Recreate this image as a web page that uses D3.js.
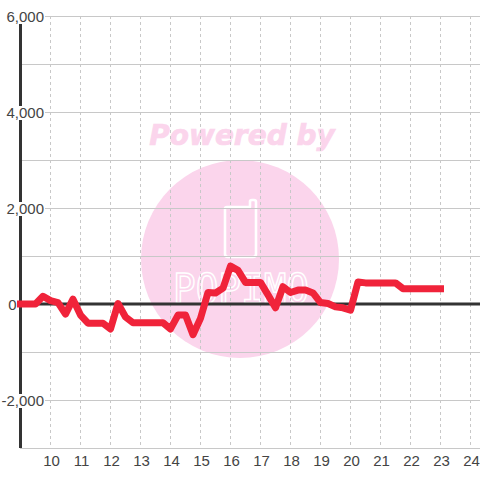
<!DOCTYPE html>
<html><head><meta charset="utf-8">
<script src="https://cdn.jsdelivr.net/npm/d3@7"></script>
<style>html,body{margin:0;padding:0;background:#fff}svg{display:block}</style>
</head><body><svg id="c" width="480" height="480"></svg>
<script>
const hours=[9,9.25,9.5,9.75,10,10.25,10.5,10.75,11,11.25,11.5,11.75,12,12.25,12.5,12.75,13,13.25,13.5,13.75,14,14.25,14.5,14.75,15,15.25,15.5,15.75,16,16.25,16.5,16.75,17,17.25,17.5,17.75,18,18.25,18.5,18.75,19,19.25,19.5,19.75,20,20.25,20.5,20.75,21,21.25,21.5,21.75,22,22.25,22.5,22.75,23];
const values=[0,0,0,160,70,30,-210,100,-230,-400,-400,-400,-520,10,-270,-390,-390,-390,-390,-390,-520,-230,-230,-640,-300,240,230,330,790,700,450,450,450,190,-80,360,240,290,290,230,30,10,-60,-80,-130,460,440,440,440,440,440,320,320,320,320,320,320];
const xTicks=[10,11,12,13,14,15,16,17,18,19,20,21,22,23,24];
const yGrid=[6000,5000,4000,3000,2000,1000,0,-1000,-2000,-3000];
const yLabels=[6000,4000,2000,-2000];
const zeroLabel=[0];

const svg=d3.select("#c");
const x=d3.scaleLinear().domain([9,25]).range([20.5,500.5]);
const y=d3.scaleLinear().domain([6000,-3000]).range([16,448]);
const PINK="#fbd5ec";
const fmt=d=>d3.format(",")(d).replace("\u2212","-");

// watermark
const wm=svg.append("g");
wm.append("text").attr("x",242).attr("y",145).attr("text-anchor","middle")
  .attr("font-family","DejaVu Sans").attr("font-weight","bold").attr("font-style","italic")
  .attr("font-size",28).attr("fill",PINK).attr("stroke",PINK).attr("stroke-width",0.7).text("Powered by");
wm.append("circle").attr("cx",240).attr("cy",259).attr("r",99).attr("fill",PINK);
wm.append("path").attr("fill","none").attr("stroke","#fff").attr("stroke-width",2.6).attr("stroke-linejoin","round")
  .attr("d","M227 207H250V201.5Q250 200 252 200H254Q256 200 256 202V254Q256 257 253 257H228Q225 257 225 254V209Q225 207 227 207Z");
wm.append("text").attr("x",241).attr("y",303).attr("text-anchor","middle")
  .attr("font-family","DejaVu Sans Mono").attr("font-size",40).attr("textLength",136).attr("lengthAdjust","spacingAndGlyphs")
  .attr("fill",PINK).attr("stroke","#fff").attr("stroke-width",1.5).text("POPIMO");

// grid
const grid=svg.append("g").attr("shape-rendering","crispEdges");
grid.selectAll("line.h").data(yGrid).join("line").attr("class","h")
  .attr("x1",20).attr("x2",480).attr("y1",d=>y(d)).attr("y2",d=>y(d))
  .attr("stroke","#c8c8c8").attr("stroke-width",1);
grid.selectAll("line.v").data(xTicks).join("line").attr("class","v")
  .attr("x1",d=>x(d)).attr("x2",d=>x(d)).attr("y1",16).attr("y2",448)
  .attr("stroke","#c8c8c8").attr("stroke-width",1).attr("stroke-dasharray","3,3");

// axis lines
svg.append("line").attr("x1",20.5).attr("x2",20.5).attr("y1",16).attr("y2",448).attr("stroke","#333").attr("stroke-width",3);
svg.append("line").attr("x1",20).attr("x2",480).attr("y1",y(0)).attr("y2",y(0)).attr("stroke","#333").attr("stroke-width",3);

// labels with white plates that break the axis
svg.append("g").selectAll("rect").data(yLabels).join("rect")
  .attr("x",0).attr("width",45).attr("y",d=>y(d)-6).attr("height",14).attr("fill","#fff");
svg.append("g").selectAll("text").data(yLabels).join("text")
  .attr("x",44).attr("y",d=>y(d)+5.5).attr("text-anchor","end")
  .attr("font-family","Liberation Sans").attr("font-size",15).attr("fill","#444")
  .text(fmt);
svg.append("g").selectAll("text").data(zeroLabel).join("text")
  .attr("x",16.5).attr("y",d=>y(d)+5.5).attr("text-anchor","end")
  .attr("font-family","Liberation Sans").attr("font-size",15).attr("fill","#444")
  .text(d=>d);
svg.append("g").selectAll("text").data(xTicks).join("text")
  .attr("x",d=>x(d)+1).attr("y",466).attr("text-anchor","middle")
  .attr("font-family","Liberation Sans").attr("font-size",15).attr("fill","#444")
  .text(d=>d);

// series
const line=d3.line().x((d,i)=>x(hours[i])).y(d=>y(d));
svg.append("path").datum(values).attr("d",line).attr("fill","none")
  .attr("stroke","#f0233a").attr("stroke-width",7).attr("stroke-linecap","square").attr("stroke-linejoin","round");
</script></body></html>
